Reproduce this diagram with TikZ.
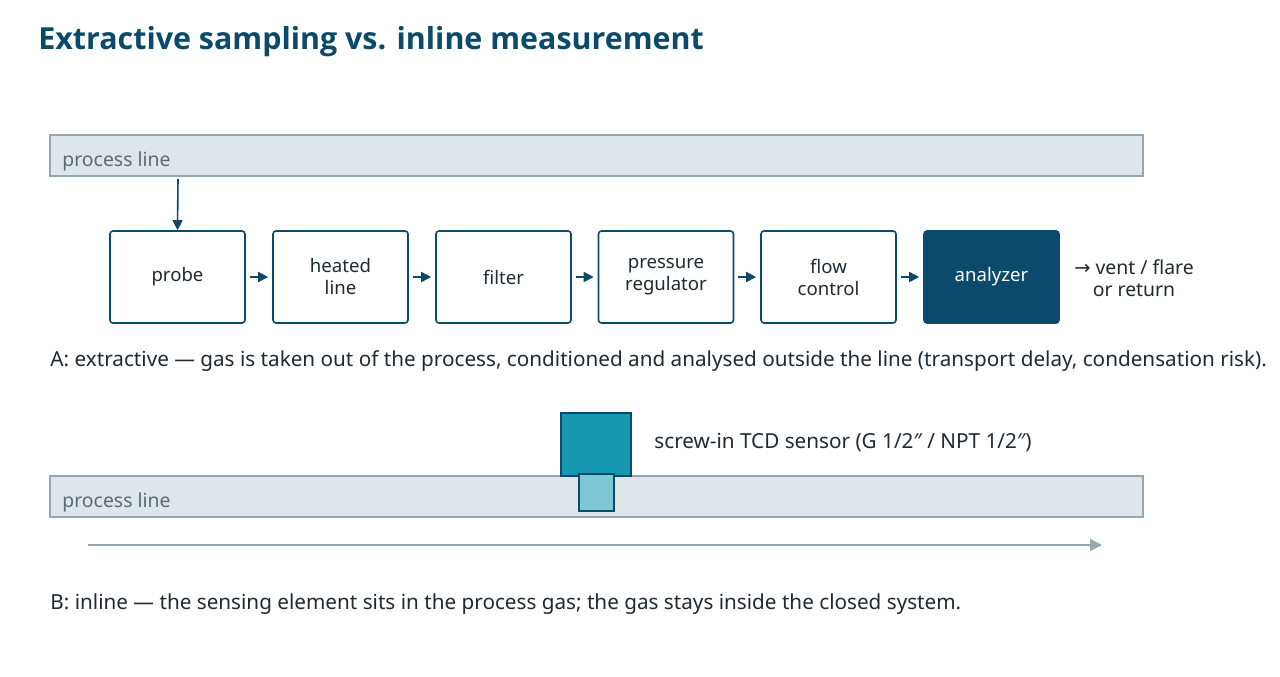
\documentclass[tikz,border=0pt]{standalone}
\usepackage{fontspec}
\setmainfont{Noto Sans}
\newfontfamily\symfont{DejaVu Sans}
\newfontfamily\titlefont{Open Sans}
\usetikzlibrary{arrows.meta,positioning}
\definecolor{navy}{HTML}{0B4A6A}
\definecolor{pipefill}{HTML}{DFE6EA}
\definecolor{pipeedge}{HTML}{94A8B4}
\definecolor{pipetext}{HTML}{5A6B75}
\definecolor{ink}{HTML}{1F2A33}
\definecolor{sensor}{HTML}{1597B0}
\definecolor{sensortip}{HTML}{7EC6D4}
\tikzset{
  stage/.style={draw=navy, thick, rounded corners=1.5pt, fill=white, minimum width=67.5pt, minimum height=46pt, align=center, font=\fontsize{9.3}{11}\selectfont, text=ink},
  flow/.style={-{Triangle[length=5pt,width=5pt]}, navy, thick},
  pipe/.style={draw=pipeedge, fill=pipefill, thick},
  caption/.style={anchor=west, inner sep=0pt, font=\fontsize{10.35}{12}\selectfont, text=ink}
}
\begin{document}
\begin{tikzpicture}[x=0.5pt, y=-0.5pt]
\useasboundingbox (0,0) rectangle (1280,676);
\node[anchor=west, inner sep=0pt, font=\titlefont\bfseries\fontsize{15.2}{17}\selectfont, text=navy] (title) at (38,42) {Extractive sampling vs. inline measurement};

% A: extractive
\draw[pipe] (50,135) rectangle (1143,176);
\node[anchor=west, inner sep=0pt, font=\fontsize{9.7}{11}\selectfont, text=pipetext] (lineA) at (62,161) {process line};
\node[stage] (probe) at (177.5,277) {probe};
\node[stage] (heated) at (340.5,277) {heated\\line};
\node[stage] (filter) at (503.5,277) {filter};
\node[stage] (press) at (666,277) {pressure\\regulator};
\node[stage] (fc) at (828.5,277) {flow\\control};
\node[stage, fill=navy, text=white] (ana) at (991.5,277) {analyzer};
\coordinate (tap) at (178,179);
\draw[flow] (tap) -- (probe.north);
\foreach \a/\b in {probe/heated, heated/filter, filter/press, press/fc, fc/ana}
  \draw[flow] ([xshift=2pt]\a.east) -- ([xshift=-2pt]\b.west);
\node[align=center, font=\fontsize{9.7}{11}\selectfont, text=ink] (vent) at (1134,278) {{\symfont →} vent / flare\\or return};
\node[caption] (capA) at (50,361) {A: extractive — gas is taken out of the process, conditioned and analysed outside the line (transport delay, condensation risk).};

% B: inline
\draw[pipe] (50,476) rectangle (1143,517);
\node[anchor=west, inner sep=0pt, font=\fontsize{9.7}{11}\selectfont, text=pipetext] (lineB) at (62,502) {process line};
\draw[navy, thick, fill=sensor] (561,413) rectangle (631,476);
\draw[navy, thick, fill=sensortip] (579,474) rectangle (614,511);
\node[caption] (tcd) at (654,442) {screw-in TCD sensor (G 1/2″ / NPT 1/2″)};
\coordinate (gin) at (88,545);
\coordinate (gout) at (1102,545);
\draw[-{Triangle[length=6pt,width=6pt]}, pipeedge, thick] (gin) -- (gout);
\node[caption] (capB) at (50,604) {B: inline — the sensing element sits in the process gas; the gas stays inside the closed system.};
\end{tikzpicture}
\end{document}
